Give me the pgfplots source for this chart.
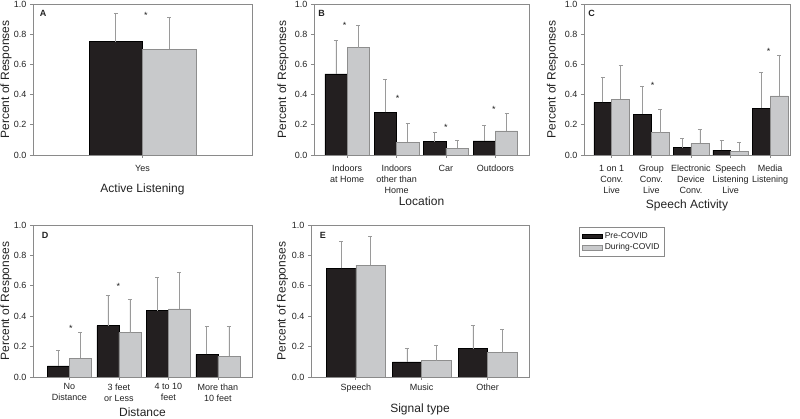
\documentclass[border=0pt]{standalone}
\usepackage{fontspec}
\setmainfont{Liberation Sans}
\usepackage{pgfplots}
\pgfplotsset{compat=1.18}
\usetikzlibrary{plotmarks}

\definecolor{barblack}{HTML}{231F20}
\definecolor{bargray}{HTML}{C8C9CB}
\definecolor{baredge}{HTML}{8E8E8E}
\definecolor{errgray}{HTML}{9A9A9A}
\definecolor{axgray}{HTML}{8A8A8A}
\definecolor{txt}{HTML}{222222}

\tikzset{letter/.style={font=\bfseries\fontsize{9}{9}\selectfont, text=txt}}
\pgfplotsset{
 panel/.style={
  scale only axis,
  ymin=0, ymax=1, ytick={0,0.2,0.4,0.6,0.8,1},
  yticklabel style={/pgf/number format/.cd, fixed, fixed zerofill, precision=1, assume math mode=true},
  axis line style={axgray, line width=0.6pt},
  tick style={axgray, line width=0.6pt},
  major tick length=3pt,
  tick align=outside, ytick pos=left, xtick pos=bottom,
  ylabel={Percent of Responses},
  label style={font=\fontsize{12}{14}\selectfont, text=txt},
  tick label style={font=\fontsize{9}{11}\selectfont, text=txt},
  xticklabel style={align=center},
 },
 ylab/.style={ylabel style={at={(rel axis cs:0,0.5)}, anchor=center, yshift=#1}},
 xlab/.style={xlabel style={at={(rel axis cs:0.5,0)}, anchor=base, yshift=-#1}},
 errs/.style={/pgfplots/error bars/y dir=plus, /pgfplots/error bars/y explicit,
   /pgfplots/error bars/error bar style={errgray, line width=0.7pt},
   /pgfplots/error bars/error mark options={errgray, rotate=90, mark size=2pt, line width=0.7pt}},
 bk/.style={ybar, bar shift=0pt, fill=barblack, draw=black, line width=0.5pt, bar width=#1},
 gy/.style={ybar, bar shift=0pt, fill=bargray, draw=baredge, line width=0.5pt, bar width=#1},
 star/.style={only marks, mark=text, text mark={*}, text mark as node=true,
   text mark style={font=\fontsize{9}{9}\selectfont, text=txt}},
}

\begin{document}
\begin{tikzpicture}
\useasboundingbox (0,0) rectangle (800pt,419pt);

% ---------------- A
\begin{axis}[panel, at={(33pt,264pt)}, anchor=south west, width=219pt, height=151pt,
  xmin=-1, xmax=1, xtick={0}, xticklabels={Yes}, xticklabel style={yshift=-4pt},
  ylab=27pt, xlabel={Active Listening}, xlab=37.3pt]
\addplot[bk=0.487, errs] table[x=x, y=y, y error=e] {
x y e
-0.2435 0.751 0.187
};
\addplot[gy=0.487, errs] table[x=x, y=y, y error=e] {
x y e
0.2435 0.700 0.212
};
\addplot[star] coordinates {(0.03,0.925)};
\node[letter] at (rel axis cs:0.046,0.94) {A};
\end{axis}

% ---------------- B
\begin{axis}[panel, at={(314pt,264pt)}, anchor=south west, width=215pt, height=151pt,
  xmin=-0.67, xmax=3.68, xtick={0,1,2,3}, xticklabel style={yshift=-3.5pt},
  xticklabels={{Indoors\\at Home},{Indoors\\other than\\Home},{Car},{Outdoors}},
  ylab=31pt, xlabel={Location}, xlab=50.7pt]
\addplot[bk=0.45, errs] table[x=x, y=y, y error=e] {
x y e
-0.225 0.537 0.221
0.775 0.282 0.216
1.775 0.088 0.064
2.775 0.093 0.105
};
\addplot[gy=0.45, errs] table[x=x, y=y, y error=e] {
x y e
0.225 0.711 0.148
1.225 0.084 0.127
2.225 0.046 0.049
3.225 0.159 0.119
};
\addplot[star] coordinates {(-0.05,0.855) (1.02,0.375) (2.0,0.185) (2.97,0.302)};
\node[letter] at (rel axis cs:0.036,0.94) {B};
\end{axis}

% ---------------- C
\begin{axis}[panel, at={(584pt,264pt)}, anchor=south west, width=206pt, height=151pt,
  xmin=-0.70, xmax=4.50, xtick={0,1,2,3,4}, xticklabel style={yshift=-3.5pt},
  xticklabels={{1 on 1\\Conv.\\Live},{Group\\Conv.\\Live},{Electronic\\Device\\Conv.},{Speech\\Listening\\Live},{Media\\Listening}},
  ylab=31.5pt, xlabel={Speech Activity}, xlab=53.3pt]
\addplot[bk=0.45, errs] table[x=x, y=y, y error=e] {
x y e
-0.225 0.348 0.163
0.775 0.271 0.181
1.775 0.048 0.064
2.775 0.033 0.062
3.775 0.311 0.237
};
\addplot[gy=0.45, errs] table[x=x, y=y, y error=e] {
x y e
0.225 0.370 0.225
1.225 0.148 0.152
2.225 0.077 0.095
3.225 0.026 0.060
4.225 0.392 0.271
};
\addplot[star] coordinates {(1.03,0.463) (3.96,0.683)};
\node[letter] at (rel axis cs:0.037,0.94) {C};
\end{axis}

% ---------------- D
\begin{axis}[panel, at={(33pt,42pt)}, anchor=south west, width=219pt, height=152pt,
  xmin=-0.735, xmax=3.69, xtick={0,1,2,3},
  xticklabels={{No\\Distance},{3 feet\\or Less},{4 to 10\\feet},{More than\\10 feet}},
  ylab=27pt, xlabel={Distance}, xlab=40pt]
\addplot[bk=0.445, errs] table[x=x, y=y, y error=e] {
x y e
-0.2225 0.073 0.101
0.7775 0.338 0.196
1.7775 0.437 0.216
2.7775 0.149 0.183
};
\addplot[gy=0.445, errs] table[x=x, y=y, y error=e] {
x y e
0.2225 0.123 0.174
1.2225 0.292 0.218
2.2225 0.448 0.240
3.2225 0.136 0.194
};
\addplot[star] coordinates {(0.03,0.317) (0.99,0.598)};
\node[letter] at (rel axis cs:0.055,0.934) {D};
\end{axis}

% ---------------- E
\begin{axis}[panel, at={(311pt,42pt)}, anchor=south west, width=218pt, height=152pt,
  xmin=-0.68, xmax=2.63, xtick={0,1,2},
  xticklabels={Speech,Music,Other},
  ylab=28.5pt, xlabel={Signal type}, xlab=35.3pt,
  legend image code/.code={\draw[#1] (0pt,-2.2pt) rectangle (20pt,2.2pt);},
  legend style={at={(rel axis cs:1,1)}, anchor=north west, xshift=50pt, yshift=-2pt,
    draw=axgray, line width=0.6pt, font=\fontsize{8.5}{9}\selectfont, text=txt,
    inner xsep=3pt, inner ysep=3pt, row sep=0pt},
  legend cell align=left]
\addplot[bk=0.445, errs, forget plot] table[x=x, y=y, y error=e] {
x y e
-0.2225 0.714 0.176
0.7775 0.099 0.088
1.7775 0.187 0.151
};
\addplot[gy=0.445, errs, forget plot] table[x=x, y=y, y error=e] {
x y e
0.2225 0.736 0.191
1.2225 0.108 0.103
2.2225 0.160 0.154
};
\addlegendimage{fill=barblack, draw=black, line width=0.5pt}
\addlegendentry{Pre-COVID}
\addlegendimage{fill=bargray, draw=baredge, line width=0.5pt}
\addlegendentry{During-COVID}
\node[letter] at (rel axis cs:0.054,0.934) {E};
\end{axis}
\end{tikzpicture}
\end{document}
